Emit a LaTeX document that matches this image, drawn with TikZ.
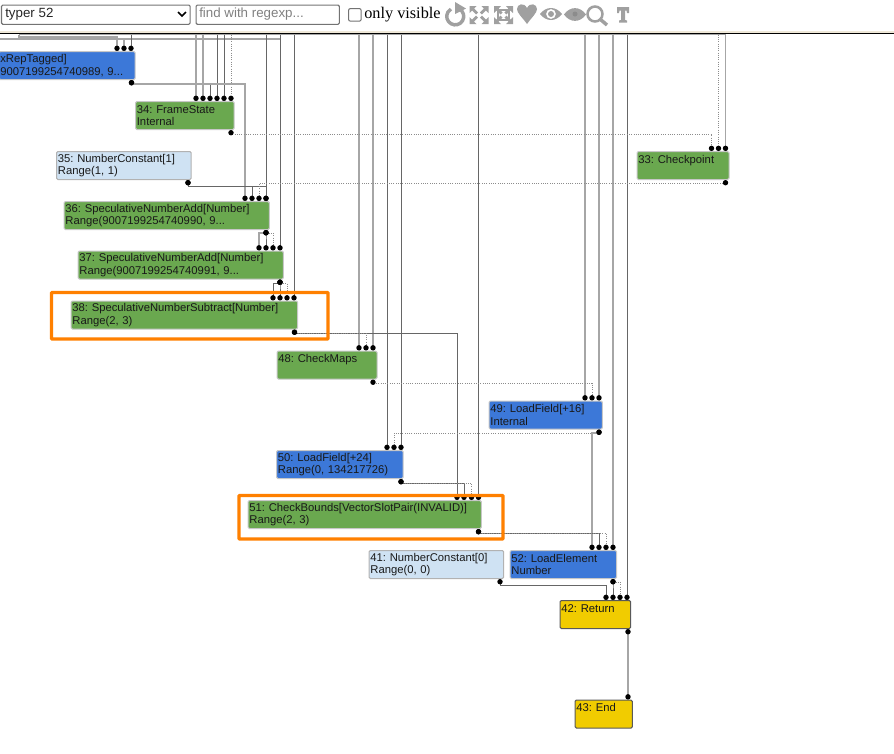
\documentclass[tikz,border=0pt]{standalone}
\usepackage{fontspec}
\setmainfont{Liberation Sans}
\newfontfamily\serifface{Liberation Serif}
\usetikzlibrary{arrows.meta,shapes.geometric}
\frenchspacing

\definecolor{nodegreen}{HTML}{6AA84F}
\definecolor{nodeblue}{HTML}{3C78D8}
\definecolor{nodepale}{HTML}{CFE2F3}
\definecolor{nodeyellow}{HTML}{F1CC00}
\definecolor{markorange}{HTML}{FF8000}
\definecolor{icongray}{HTML}{A0A0A0}
\definecolor{headercream}{HTML}{EFE8D8}

\tikzset{
    graphnode/.style={anchor=north west,draw=black!22,line width=.8pt,rounded corners=1pt,
        inner sep=1pt,align=left,text width=#1,text=black!90,xshift=-.75pt,yshift=.75pt,
        font=\fontsize{8.45}{9.2}\selectfont},
    greennode/.style={graphnode=#1,fill=nodegreen},
    bluenode/.style={graphnode=#1,fill=nodeblue},
    palenode/.style={graphnode=#1,fill=nodepale,draw=black!30},
    yellownode/.style={graphnode=#1,fill=nodeyellow,draw=black!65},
    markbox/.style={draw=markorange,line width=2.4pt,rounded corners=.5pt},
    valueedge/.style={draw=black!35,line width=1pt},
    darkedge/.style={draw=black!60,line width=.7pt},
    dottededge/.style={draw=black!45,line width=.7pt,densely dotted},
    outdot/.style={{Circle[length=4pt,color=black]}-{Circle[length=4pt,color=black]}},
    indot/.style={-{Circle[length=4pt,color=black]}},
    formbox/.style={anchor=north west,draw=black!55,line width=.8pt,rounded corners=1pt,inner sep=0pt},
    icon/.style={draw=icongray,line width=1.6pt}
}

% source node, x out, y of the rail, x in, target node
\newcommand{\railedge}[6][valueedge]{%
    \draw[#1,outdot] (#3,0 |- #2.south) -- (#3,#4) -- (#5,#4) -- (#5,0 |- #6.north);}
% x, target node
\newcommand{\topedge}[3][valueedge]{%
    \draw[#1,indot] (#2,0 |- topline) -- (#2,0 |- #3.north);}
% expand arrow, from corner outwards
\newcommand{\cornerarrow}[3]{%
    \fill[icongray] (#1,#2) -- ++(#3*7,0) -- ++(-#3*2.4,2.4) -- ++(#3*4,4) -- ++(-#3*2,2) -- ++(-#3*4,-4) -- ++(-#3*2.6,2.6) -- cycle;}

\begin{document}
\begin{tikzpicture}[x=.75pt,y=-.75pt]
    \useasboundingbox (0,0) rectangle (894,754);

    % toolbar
    \node[formbox,minimum width=141.5pt,minimum height=14.5pt] (typerbox) at (1,4.5) {};
    \node[anchor=west,inner sep=0pt,font=\fontsize{10}{12}\selectfont,text=black!85] (typerlabel) at (5,14) {typer 52};
    \draw[line width=1.2pt] (178,12) -- (182,16) -- (186,12);
    \node[formbox,minimum width=107.5pt,minimum height=14.5pt] (findbox) at (195.5,4.5) {};
    \node[anchor=west,inner sep=0pt,font=\fontsize{10}{12}\selectfont,text=black!50] (findlabel) at (199,14.5) {find with regexp...};
    \node[formbox,minimum width=9.5pt,minimum height=9.5pt,rounded corners=1.5pt] (visiblebox) at (348,8) {};
    \node[anchor=west,inner sep=0pt,font=\serifface\fontsize{12.2}{14}\selectfont] (visiblelabel) at (364,14.5) {only visible};

    \draw[icon,line width=2.6pt] (459.5,9) arc (-60:240:8.5);
    \fill[icongray] (455,2) -- (466,8.5) -- (455,14) -- cycle;
    \cornerarrow{469.5}{6}{1}
    \begin{scope}[yscale=-1,shift={(0,-30)}]
        \cornerarrow{469.5}{6}{1}
        \cornerarrow{488.5}{6}{-1}
    \end{scope}
    \cornerarrow{488.5}{6}{-1}
    \cornerarrow{494}{6}{1}
    \cornerarrow{513}{6}{-1}
    \begin{scope}[yscale=-1,shift={(0,-30)}]
        \cornerarrow{494}{6}{1}
        \cornerarrow{513}{6}{-1}
    \end{scope}
    \draw[icon,line width=2pt] (498,10) rectangle (509,20);
    \fill[icongray] (527,24) .. controls (522,17) and (517,13) .. (517,9) .. controls (517,4) and (524,2) .. (527,8)
        .. controls (530,2) and (537,4) .. (537,9) .. controls (537,13) and (532,17) .. (527,24) -- cycle;
    \fill[icongray,even odd rule] (540,14) .. controls (546,6) and (556,6) .. (562,14) .. controls (556,22) and (546,22) .. (540,14) -- cycle
        (551,14) circle (5);
    \fill[icongray] (551,14) circle (3);
    \fill[icongray] (564,14.5) .. controls (570,6) and (580,6) .. (586,14.5) .. controls (580,23) and (570,23) .. (564,14.5) -- cycle;
    \fill[black!45] (575,14) circle (2.5);
    \draw[icon,line width=1.9pt] (595,14) circle (7.5);
    \draw[icon,line width=2.6pt] (600.5,19.5) -- (607,25);
    \fill[icongray] (617,7) -- (629,7) -- (629,13) -- (627,13) -- (626.5,10.5) -- (625,10.5) -- (625,20) -- (627,20.5) -- (627,22.5)
        -- (619,22.5) -- (619,20.5) -- (621,20) -- (621,10.5) -- (619.5,10.5) -- (619,13) -- (617,13) -- cycle;

    \fill[headercream] (0,31) rectangle (894,33);
    \draw[line width=.8pt] (0,33.5) -- (894,33.5);
    \coordinate (topline) at (0,34.5);

    % nodes of the graph
    \node[bluenode=100.1pt,minimum height=21pt] (n32) at (-.5,52) {xRepTagged]\\9007199254740989, 9...};
    \node[greennode=72pt,minimum height=21pt] (n34) at (136,102) {34: FrameState\\Internal};
    \node[palenode=99pt,minimum height=21pt] (n35) at (57,152) {35: NumberConstant[1]\\Range(1, 1)};
    \node[greennode=67pt,minimum height=21pt] (n33) at (637.5,152) {33: Checkpoint\\~};
    \node[greennode=152pt,minimum height=21pt] (n36) at (64.5,202) {36: SpeculativeNumberAdd[Number]\\Range(9007199254740990, 9...};
    \node[greennode=152pt,minimum height=21pt] (n37) at (78.5,251.5) {37: SpeculativeNumberAdd[Number]\\Range(9007199254740991, 9...};
    \node[greennode=168pt,minimum height=21pt] (n38) at (71.5,301.5) {38: SpeculativeNumberSubtract[Number]\\Range(2, 3)};
    \node[greennode=73pt,minimum height=21pt] (n48) at (277.5,351.5) {48: CheckMaps\\~};
    \node[bluenode=83pt,minimum height=21pt] (n49) at (489.5,401.5) {49: LoadField[+16]\\Internal};
    \node[bluenode=93pt,minimum height=21pt] (n50) at (277,451) {50: LoadField[+24]\\Range(0, 134217726)};
    \node[greennode=173pt,minimum height=21pt] (n51) at (248.5,501) {51: CheckBounds[VectorSlotPair(INVALID)]\\Range(2, 3)};
    \node[palenode=99pt,minimum height=21pt] (n41) at (369.5,551) {41: NumberConstant[0]\\Range(0, 0)};
    \node[bluenode=78pt,minimum height=21pt] (n52) at (510.5,551) {52: LoadElement\\Number};
    \node[yellownode=51pt,minimum height=21pt] (n42) at (560.5,601) {42: Return\\~};
    \node[yellownode=41pt,minimum height=21pt] (n43) at (575.5,700.5) {43: End\\~};

    % edges coming from above
    \draw[valueedge] (19,0 |- topline) -- (725.5,0 |- topline);
    \draw[valueedge,indot] (19,0 |- topline) -- (19,37) -- (117,37) -- (117,0 |- n32.north);
    \draw[valueedge,indot] (0,39) -- (124,39) -- (124,0 |- n32.north);
    \draw[valueedge] (124,39) -- (280,39);
    \topedge[darkedge]{131}{n32}
    \topedge{196}{n34}
    \topedge{203}{n34}
    \topedge[darkedge]{217}{n34}
    \topedge[darkedge]{224}{n34}
    \topedge[dottededge]{231}{n34}
    \topedge[darkedge]{266}{n36}
    \topedge[darkedge]{280}{n37}
    \topedge[darkedge]{294}{n38}
    \topedge{359}{n48}
    \topedge{373}{n48}
    \topedge[darkedge]{387}{n50}
    \topedge[darkedge]{401}{n50}
    \topedge[darkedge]{478.5}{n51}
    \topedge{585}{n49}
    \topedge{599}{n49}
    \topedge{613}{n52}
    \topedge[darkedge]{627}{n42}
    \topedge[dottededge]{718.5}{n33}
    \topedge{725.5}{n33}

    % edges between the nodes
    \railedge[darkedge]{n32}{131.5}{84}{210}{n34}
    \railedge{n32}{131.5}{84}{245}{n36}
    \railedge[dottededge]{n34}{231}{134}{711.5}{n33}
    \railedge[darkedge]{n35}{188}{186}{252}{n36}
    \railedge[darkedge]{n35}{188}{186}{266}{n36}
    \railedge[dottededge]{n33}{725.5}{183}{259}{n36}
    \railedge{n36}{266}{233}{259}{n37}
    \railedge[darkedge]{n36}{266}{233}{266}{n37}
    \railedge[dottededge]{n36}{266}{233}{273}{n37}
    \railedge[darkedge]{n37}{280}{283}{273}{n38}
    \railedge[darkedge]{n37}{280}{283}{280}{n38}
    \railedge[dottededge]{n37}{280}{283}{287}{n38}
    \railedge[darkedge]{n38}{294.5}{333}{457}{n51}
    \railedge[dottededge]{n38}{294.5}{333}{366}{n48}
    \railedge[dottededge]{n48}{373}{383}{592}{n49}
    \railedge[dottededge]{n49}{599}{433}{394}{n50}
    \railedge{n49}{599}{433}{592}{n52}
    \railedge[darkedge]{n50}{401}{483}{464}{n51}
    \railedge[dottededge]{n50}{401}{483}{471.5}{n51}
    \railedge[darkedge]{n51}{478.5}{533}{599}{n52}
    \railedge[dottededge]{n51}{478.5}{533}{606}{n52}
    \railedge[darkedge]{n41}{500}{585}{606}{n42}
    \railedge[darkedge]{n52}{613}{582}{613}{n42}
    \railedge[dottededge]{n52}{613}{582}{620}{n42}
    \railedge{n42}{628}{665}{628}{n43}

    % selected nodes
    \draw[markbox] (51.5,292.5) rectangle (328,339);
    \draw[markbox] (239,495.5) rectangle (503,539);
\end{tikzpicture}
\end{document}
